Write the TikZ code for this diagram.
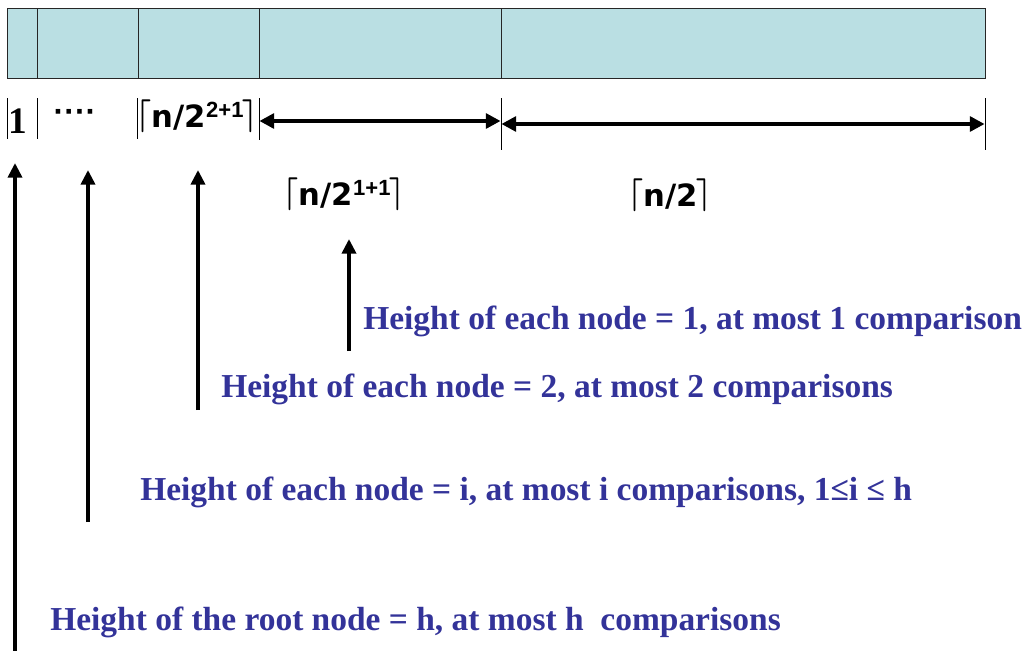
\documentclass[tikz,border=0pt]{standalone}
\usepackage{graphicx}
\usepackage{fontspec}
\setmainfont{Liberation Serif}
\setsansfont{Liberation Sans}
\newfontfamily\labfont{DejaVu Sans}
\usetikzlibrary{arrows.meta}
\definecolor{cellfill}{HTML}{BADFE3}
\definecolor{txtblue}{HTML}{333399}
\newcommand\ceilL{\raisebox{2.1pt}{\scalebox{1.05}[1.19]{\fontsize{22}{26}\selectfont\boldmath$\lceil$}}}
\newcommand\ceilR{\kern-1pt\raisebox{2.1pt}{\scalebox{1.05}[1.19]{\fontsize{22}{26}\selectfont\boldmath$\rceil$}}}
\newcommand\supr[1]{\raisebox{7pt}{\sffamily\bfseries\fontsize{16.5}{18}\selectfont #1}}
\begin{document}
\begin{tikzpicture}[x=0.75pt,y=-0.75pt,
  cell/.style={draw=black!85, line width=0.6pt, fill=cellfill},
  tickline/.style={line width=0.6pt},
  dimarrow/.style={line width=3.2pt, {Triangle[length=11pt,width=11pt]}-{Triangle[length=11pt,width=11pt]}, shorten <=0.3pt, shorten >=0.3pt},
  uparrow/.style={line width=3.6pt, -{Triangle[length=11pt,width=10.5pt]}},
  caption/.style={text=txtblue, font=\bfseries\fontsize{25.1}{29}\selectfont, anchor=base west, inner sep=0pt},
  lab/.style={font=\labfont\bfseries\fontsize{23}{27}\selectfont, anchor=base, inner sep=0pt},
  onelab/.style={font=\bfseries\fontsize{28}{32}\selectfont, anchor=base, inner sep=0pt},
  dotlab/.style={font=\sffamily\bfseries\fontsize{24}{28}\selectfont, anchor=base, inner sep=0pt}]
\useasboundingbox (0,0) rectangle (1028,650);

% array cells
\path[cell] (7,8) rectangle (37,78);
\path[cell] (37,8) rectangle (138,78);
\path[cell] (138,8) rectangle (259,78);
\path[cell] (259,8) rectangle (501,78);
\path[cell] (501,8) rectangle (985,78);

% tick marks
\coordinate (k0) at (7,98);   \coordinate (k0b) at (7,139);
\coordinate (k1) at (37,98);  \coordinate (k1b) at (37,139);
\coordinate (k2) at (137,98); \coordinate (k2b) at (137,139);
\coordinate (k3) at (259,98); \coordinate (k3b) at (259,140);
\coordinate (k4) at (501,98); \coordinate (k4b) at (501,150);
\coordinate (k5) at (985,98); \coordinate (k5b) at (985,150);
\foreach \i in {0,...,5} \draw[tickline] (k\i) -- (k\i b);

% dimension arrows
\coordinate (d3) at (259,121); \coordinate (d4) at (501,121);
\coordinate (e4) at (501,124); \coordinate (e5) at (985,124);
\draw[dimarrow] (d3) -- (d4);
\draw[dimarrow] (e4) -- (e5);

% labels
\node[onelab] (one) at (18,133) {1};
\node[dotlab] (dots) at (75,122.5) {····};
\node[lab] (lvl2) at (197,127) {\ceilL n/2\supr{2+1}\ceilR};
\node[lab] (lvl1) at (344,205) {\ceilL n/2\supr{1+1}\ceilR};
\node[lab] (lvl0) at (670,206) {\ceilL n/2\ceilR};

% captions
\node[caption] (c1) at (363,329) {Height of each node = 1, at most 1 comparison};
\node[caption] (c2) at (221,397) {Height of each node = 2, at most 2 comparisons};
\node[caption] (c3) at (140,500) {Height of each node = i, at most i comparisons, 1≤i ≤ h};
\node[caption] (c4) at (50,630) {Height of the root node = h, at most h\ \ comparisons};

% up arrows
\coordinate (a1s) at (15,652);  \coordinate (a1e) at (15,163);
\coordinate (a2s) at (88,522);  \coordinate (a2e) at (88,170);
\coordinate (a3s) at (198,410); \coordinate (a3e) at (198,170);
\coordinate (a4s) at (349,351); \coordinate (a4e) at (349,239);
\draw[uparrow] (a1s) -- (a1e);
\draw[uparrow] (a2s) -- (a2e);
\draw[uparrow] (a3s) -- (a3e);
\draw[uparrow] (a4s) -- (a4e);
\end{tikzpicture}
\end{document}
